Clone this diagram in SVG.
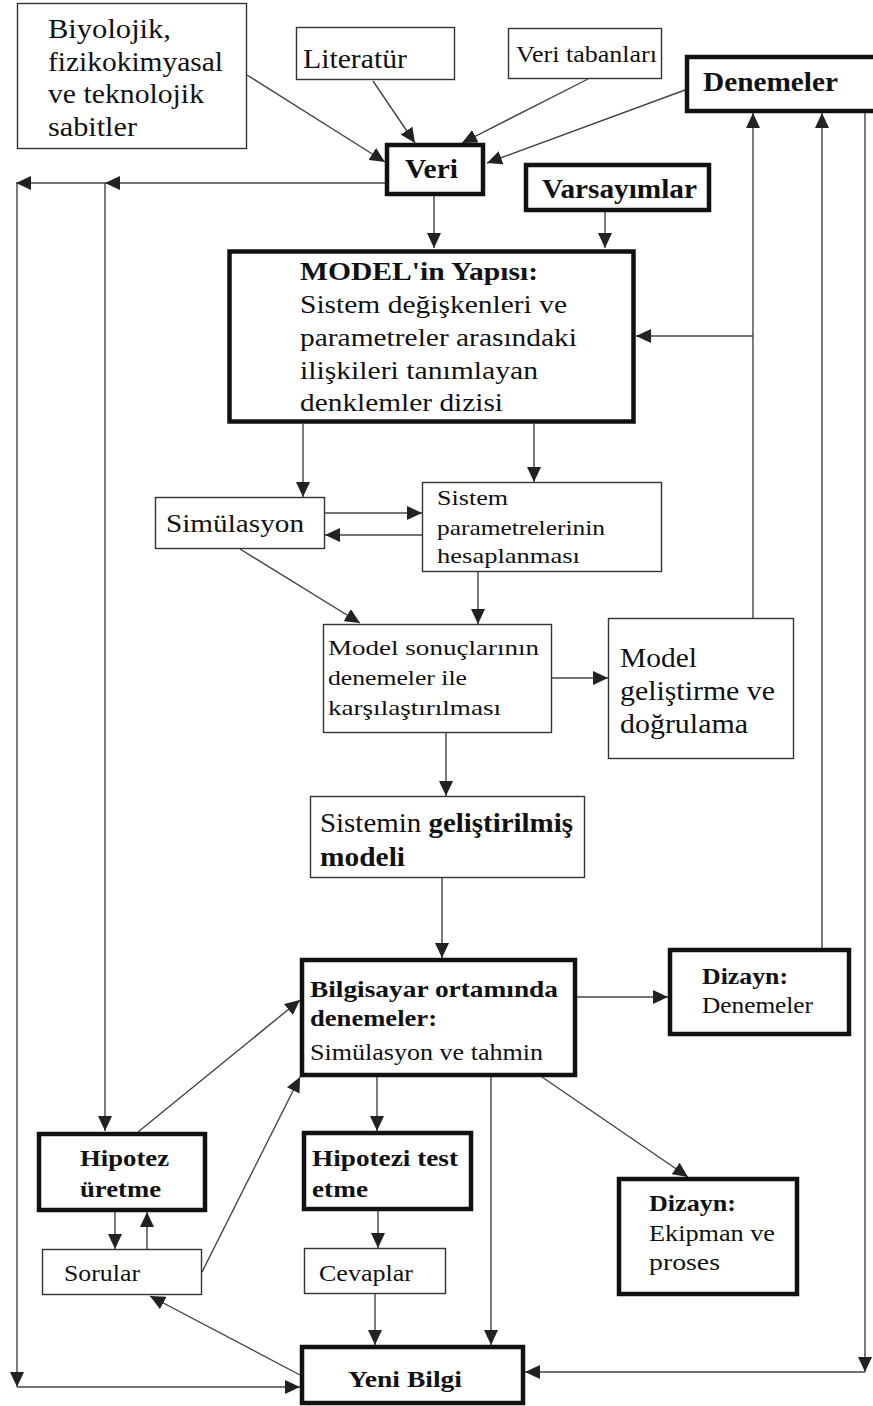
<svg xmlns="http://www.w3.org/2000/svg" width="873" height="1406" viewBox="0 0 873 1406" font-family="'Liberation Serif', 'Times New Roman', serif">
<style>
.bg{fill:#fff}
.thin{fill:#fff;stroke:#333;stroke-width:1.4}
.thick{fill:#fff;stroke:#111;stroke-width:4.5}
.c{fill:none;stroke:#444;stroke-width:1.4}
.a{marker-end:url(#ah)}
text{font-family:'Liberation Serif', 'Times New Roman', serif;fill:#111}
.b{font-weight:bold}
</style>
<defs>
<marker id="ah" markerUnits="userSpaceOnUse" markerWidth="16" markerHeight="14" refX="15" refY="7" orient="auto">
<path d="M0,0 L15,7 L0,14 Z" fill="#222"/>
</marker>
</defs>
<rect class="bg" x="0" y="0" width="873" height="1406"/>

<g id="connectors">
<line class="c a" x1="247" y1="75" x2="385" y2="162"/>
<line class="c a" x1="373" y1="81" x2="415" y2="143"/>
<line class="c a" x1="588" y1="79" x2="462" y2="143"/>
<line class="c a" x1="685" y1="90" x2="487" y2="163"/>
<line class="c a" x1="434" y1="196" x2="434" y2="248"/>
<line class="c a" x1="605" y1="212" x2="605" y2="248"/>
<line class="c a" x1="385" y1="183" x2="105" y2="183"/>
<line class="c a" x1="105" y1="183" x2="16" y2="183"/>
<line class="c a" x1="105" y1="183" x2="105" y2="1131"/>
<line class="c a" x1="17" y1="183" x2="17" y2="1387"/>
<line class="c a" x1="17" y1="1387" x2="300" y2="1387"/>
<line class="c a" x1="303" y1="424" x2="303" y2="497"/>
<line class="c a" x1="534" y1="424" x2="534" y2="482"/>
<line class="c a" x1="325" y1="513" x2="422" y2="513"/>
<line class="c a" x1="422" y1="535" x2="325" y2="535"/>
<line class="c a" x1="240" y1="549" x2="360" y2="623"/>
<line class="c a" x1="478" y1="572" x2="478" y2="624"/>
<line class="c a" x1="552" y1="678" x2="608" y2="678"/>
<line class="c a" x1="753" y1="618" x2="753" y2="113"/>
<line class="c a" x1="753" y1="336" x2="636" y2="336"/>
<line class="c a" x1="446" y1="733" x2="446" y2="796"/>
<line class="c a" x1="442" y1="878" x2="442" y2="958"/>
<line class="c a" x1="577" y1="997" x2="668" y2="997"/>
<line class="c a" x1="822" y1="948" x2="822" y2="113"/>
<line class="c a" x1="865" y1="113" x2="865" y2="1372"/>
<line class="c a" x1="865" y1="1372" x2="525" y2="1372"/>
<line class="c a" x1="542" y1="1077" x2="688" y2="1177"/>
<line class="c a" x1="491" y1="1077" x2="491" y2="1345"/>
<line class="c a" x1="377" y1="1077" x2="377" y2="1131"/>
<line class="c a" x1="378" y1="1211" x2="378" y2="1248"/>
<line class="c a" x1="375" y1="1294" x2="375" y2="1345"/>
<line class="c a" x1="115" y1="1212" x2="115" y2="1249"/>
<line class="c a" x1="147" y1="1249" x2="147" y2="1212"/>
<line class="c a" x1="138" y1="1132" x2="300" y2="1000"/>
<line class="c a" x1="202" y1="1272" x2="300" y2="1077"/>
<line class="c a" x1="300" y1="1375" x2="150" y2="1296"/>
</g>

<g id="n-biyolojik">
<rect class="thin" x="17.5" y="3.5" width="229" height="145"/>
<text x="48" y="38" font-size="27" textLength="123" lengthAdjust="spacingAndGlyphs">Biyolojik,</text>
<text x="48" y="71" font-size="27" textLength="175" lengthAdjust="spacingAndGlyphs">fizikokimyasal</text>
<text x="48" y="103" font-size="27" textLength="156" lengthAdjust="spacingAndGlyphs">ve teknolojik</text>
<text x="48" y="136" font-size="27" textLength="89" lengthAdjust="spacingAndGlyphs">sabitler</text>
</g>
<g id="n-literatur">
<rect class="thin" x="296.5" y="27.5" width="158" height="52"/>
<text x="303" y="68" font-size="27" textLength="104" lengthAdjust="spacingAndGlyphs">Literatür</text>
</g>
<g id="n-veritabanlari">
<rect class="thin" x="508.5" y="28.5" width="153" height="50"/>
<text x="516" y="62" font-size="23" textLength="141" lengthAdjust="spacingAndGlyphs">Veri tabanları</text>
</g>
<g id="n-denemeler">
<rect class="thick" x="687" y="57" width="200" height="54"/>
<text class="b" x="703" y="91" font-size="27" textLength="135" lengthAdjust="spacingAndGlyphs">Denemeler</text>
</g>
<g id="n-veri">
<rect class="thick" x="387" y="145" width="96" height="49"/>
<text class="b" x="405" y="178" font-size="27" textLength="53" lengthAdjust="spacingAndGlyphs">Veri</text>
</g>
<g id="n-varsayimlar">
<rect class="thick" x="526" y="165" width="183" height="45"/>
<text class="b" x="542" y="198" font-size="27" textLength="155" lengthAdjust="spacingAndGlyphs">Varsayımlar</text>
</g>
<g id="n-model">
<rect class="thick" x="229.5" y="251.5" width="404" height="170" stroke-width="5"/>
<text class="b" x="300" y="280" font-size="26" textLength="238" lengthAdjust="spacingAndGlyphs">MODEL'in Yapısı:</text>
<text x="300" y="313" font-size="26" textLength="267" lengthAdjust="spacingAndGlyphs">Sistem değişkenleri ve</text>
<text x="300" y="346" font-size="26" textLength="277" lengthAdjust="spacingAndGlyphs">parametreler arasındaki</text>
<text x="300" y="379" font-size="26" textLength="238" lengthAdjust="spacingAndGlyphs">ilişkileri tanımlayan</text>
<text x="300" y="411" font-size="26" textLength="203" lengthAdjust="spacingAndGlyphs">denklemler dizisi</text>
</g>
<g id="n-simulasyon">
<rect class="thin" x="155.5" y="497.5" width="169" height="51"/>
<text x="166" y="532" font-size="25" textLength="138" lengthAdjust="spacingAndGlyphs">Simülasyon</text>
</g>
<g id="n-sistemparam">
<rect class="thin" x="422.5" y="482.5" width="239" height="89"/>
<text x="437" y="505" font-size="22" textLength="71" lengthAdjust="spacingAndGlyphs">Sistem</text>
<text x="437" y="535" font-size="22" textLength="168" lengthAdjust="spacingAndGlyphs">parametrelerinin</text>
<text x="437" y="563" font-size="22" textLength="143" lengthAdjust="spacingAndGlyphs">hesaplanması</text>
</g>
<g id="n-modelsonuc">
<rect class="thin" x="323.5" y="624.5" width="228" height="108"/>
<text x="328" y="655" font-size="22" textLength="211" lengthAdjust="spacingAndGlyphs">Model sonuçlarının</text>
<text x="328" y="685" font-size="22" textLength="139" lengthAdjust="spacingAndGlyphs">denemeler ile</text>
<text x="328" y="715" font-size="22" textLength="173" lengthAdjust="spacingAndGlyphs">karşılaştırılması</text>
</g>
<g id="n-modelgel">
<rect class="thin" x="608.5" y="618.5" width="185" height="140"/>
<text x="620" y="667" font-size="27" textLength="77" lengthAdjust="spacingAndGlyphs">Model</text>
<text x="620" y="700" font-size="27" textLength="155" lengthAdjust="spacingAndGlyphs">geliştirme ve</text>
<text x="620" y="733" font-size="27" textLength="128" lengthAdjust="spacingAndGlyphs">doğrulama</text>
</g>
<g id="n-sistemin">
<rect class="thin" x="310.5" y="796.5" width="274" height="81"/>
<text x="320" y="832" font-size="27" textLength="253" lengthAdjust="spacingAndGlyphs">Sistemin <tspan class="b">geliştirilmiş</tspan></text>
<text class="b" x="320" y="866" font-size="27" textLength="85" lengthAdjust="spacingAndGlyphs">modeli</text>
</g>
<g id="n-bilgisayar">
<rect class="thick" x="302" y="960" width="273" height="115"/>
<text class="b" x="310" y="997" font-size="23" textLength="248" lengthAdjust="spacingAndGlyphs">Bilgisayar ortamında</text>
<text class="b" x="310" y="1026" font-size="23" textLength="127" lengthAdjust="spacingAndGlyphs">denemeler:</text>
<text x="310" y="1060" font-size="23" textLength="233" lengthAdjust="spacingAndGlyphs">Simülasyon ve tahmin</text>
</g>
<g id="n-dizayn-denemeler">
<rect class="thick" x="670" y="950" width="179" height="84"/>
<text class="b" x="702" y="984" font-size="23" textLength="86" lengthAdjust="spacingAndGlyphs">Dizayn:</text>
<text x="702" y="1013" font-size="23" textLength="111" lengthAdjust="spacingAndGlyphs">Denemeler</text>
</g>
<g id="n-dizayn-ekipman">
<rect class="thick" x="619" y="1179" width="178" height="115"/>
<text class="b" x="649" y="1211" font-size="23" textLength="87" lengthAdjust="spacingAndGlyphs">Dizayn:</text>
<text x="649" y="1241" font-size="23" textLength="126" lengthAdjust="spacingAndGlyphs">Ekipman ve</text>
<text x="649" y="1270" font-size="23" textLength="71" lengthAdjust="spacingAndGlyphs">proses</text>
</g>
<g id="n-hipotezi-test">
<rect class="thick" x="304" y="1133" width="167" height="76"/>
<text class="b" x="312" y="1166" font-size="23" textLength="146" lengthAdjust="spacingAndGlyphs">Hipotezi test</text>
<text class="b" x="312" y="1197" font-size="23" textLength="56" lengthAdjust="spacingAndGlyphs">etme</text>
</g>
<g id="n-hipotez-uretme">
<rect class="thick" x="39" y="1134" width="166" height="76"/>
<text class="b" x="80" y="1166" font-size="23" textLength="89" lengthAdjust="spacingAndGlyphs">Hipotez</text>
<text class="b" x="80" y="1197" font-size="23" textLength="81" lengthAdjust="spacingAndGlyphs">üretme</text>
</g>
<g id="n-sorular">
<rect class="thin" x="42.5" y="1249.5" width="159" height="45"/>
<text x="64" y="1281" font-size="23" textLength="76" lengthAdjust="spacingAndGlyphs">Sorular</text>
</g>
<g id="n-cevaplar">
<rect class="thin" x="304.5" y="1248.5" width="141" height="45"/>
<text x="319" y="1281" font-size="23" textLength="94" lengthAdjust="spacingAndGlyphs">Cevaplar</text>
</g>
<g id="n-yenibilgi">
<rect class="thick" x="302" y="1347" width="221" height="56"/>
<text class="b" x="348" y="1387" font-size="24" textLength="114" lengthAdjust="spacingAndGlyphs">Yeni Bilgi</text>
</g>
</svg>
